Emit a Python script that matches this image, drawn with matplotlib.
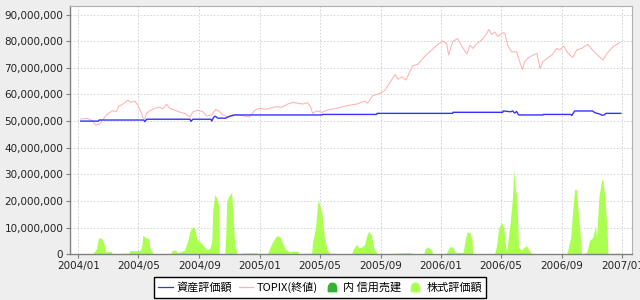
import matplotlib
matplotlib.use("Agg")
import matplotlib.pyplot as plt
import matplotlib.dates as mdates
from matplotlib.lines import Line2D
from matplotlib.path import Path
from matplotlib.ticker import FuncFormatter, MultipleLocator
import numpy as np
import pandas as pd

plt.rcParams['font.family'] = ['DejaVu Sans', 'Noto Sans CJK JP']

# ---------------- data (values in millions of yen) ----------------
topix_dates = [
    "2004-01-06", "2004-01-20", "2004-01-30", "2004-02-05", "2004-02-13", "2004-02-19", "2004-02-27",
    "2004-03-04", "2004-03-10", "2004-03-17", "2004-03-23", "2004-03-31", "2004-04-10", "2004-04-16",
    "2004-04-24", "2004-04-30", "2004-05-06", "2004-05-10", "2004-05-14", "2004-05-18", "2004-05-24",
    "2004-06-03", "2004-06-13", "2004-06-19", "2004-06-27", "2004-07-03", "2004-07-13", "2004-07-23",
    "2004-08-02", "2004-08-13", "2004-08-19", "2004-08-29", "2004-09-08", "2004-09-16", "2004-09-26",
    "2004-10-04", "2004-10-12", "2004-10-18", "2004-10-28", "2004-11-05", "2004-11-13", "2004-11-21",
    "2004-12-01", "2004-12-11", "2004-12-22", "2005-01-01", "2005-01-11", "2005-01-21", "2005-02-02",
    "2005-02-14", "2005-02-26", "2005-03-08", "2005-03-18", "2005-03-28", "2005-04-07", "2005-04-13",
    "2005-04-17", "2005-04-25", "2005-05-06", "2005-05-16", "2005-06-05", "2005-06-25", "2005-07-15",
    "2005-07-31", "2005-08-06", "2005-08-16", "2005-08-30", "2005-09-09", "2005-09-19", "2005-09-30",
    "2005-10-06", "2005-10-14", "2005-10-22", "2005-10-30", "2005-11-05", "2005-11-15", "2005-11-25",
    "2005-12-05", "2005-12-15", "2005-12-25", "2006-01-04", "2006-01-12", "2006-01-16", "2006-01-24",
    "2006-02-03", "2006-02-12", "2006-02-22", "2006-02-28", "2006-03-06", "2006-03-14", "2006-03-20",
    "2006-03-26", "2006-04-03", "2006-04-07", "2006-04-13", "2006-04-19", "2006-04-25", "2006-05-05",
    "2006-05-09", "2006-05-15", "2006-05-23", "2006-06-02", "2006-06-08", "2006-06-14", "2006-06-18",
    "2006-06-24", "2006-07-05", "2006-07-13", "2006-07-19", "2006-07-25", "2006-08-02", "2006-08-12",
    "2006-08-22", "2006-08-28", "2006-09-05", "2006-09-13", "2006-09-23", "2006-10-01", "2006-10-11",
    "2006-10-23", "2006-11-02", "2006-11-12", "2006-11-23", "2006-12-01", "2006-12-13", "2006-12-27",
]
topix_values = [
    50.8, 51.0, 50.1, 48.5, 48.9, 50.4, 52.3,
    53.1, 53.9, 53.5, 55.6, 56.4, 57.9, 57.0,
    57.5, 56.0, 53.5, 51.4, 50.7, 53.1, 53.8,
    54.8, 55.2, 54.6, 56.3, 54.8, 54.1, 53.4,
    52.9, 51.6, 53.5, 54.1, 53.5, 51.9, 52.3,
    54.4, 53.5, 52.3, 51.6, 52.3, 52.5, 52.2,
    51.9, 51.6, 54.1, 54.8, 54.4, 54.8, 55.4,
    55.2, 56.4, 57.0, 56.7, 56.4, 56.9, 55.4,
    52.9, 53.8, 53.3, 54.1, 54.8, 55.8, 56.4,
    57.5, 56.7, 59.5, 60.4, 61.4, 64.2, 67.5,
    65.7, 66.6, 65.4, 68.5, 70.8, 71.3, 73.5,
    75.4, 77.0, 78.8, 80.0, 79.2, 74.8, 79.8,
    81.0, 77.9, 75.2, 78.5, 77.3, 79.2, 79.8,
    81.0, 82.9, 84.4, 82.5, 83.5, 81.7, 83.2,
    83.0, 78.5, 76.0, 76.0, 72.3, 69.4, 72.3,
    73.5, 74.8, 75.4, 69.8, 72.3, 73.5, 74.8,
    77.3, 76.7, 78.1, 75.6, 73.9, 76.7, 77.3,
    78.8, 76.7, 74.8, 72.9, 75.4, 77.9, 79.5,
]

asset_dates = [
    "2004-01-06", "2004-02-11", "2004-02-12", "2004-05-12", "2004-05-14", "2004-05-18",
    "2004-08-13", "2004-08-15", "2004-08-19", "2004-09-24", "2004-09-26", "2004-09-30",
    "2004-10-03", "2004-10-08", "2004-10-24", "2004-10-28", "2004-11-03", "2004-11-11",
    "2005-05-06", "2005-05-07", "2005-08-24", "2005-08-25", "2006-01-24", "2006-01-25",
    "2006-05-05", "2006-05-06", "2006-05-21", "2006-05-25", "2006-05-29", "2006-06-02",
    "2006-06-06", "2006-07-25", "2006-07-26", "2006-09-19", "2006-09-21", "2006-09-27",
    "2006-11-02", "2006-11-06", "2006-11-17", "2006-11-21", "2006-11-25", "2006-11-29",
    "2006-12-29",
]
asset_values = [
    50.0, 50.0, 50.4, 50.4, 49.8, 50.7,
    50.7, 49.9, 50.7, 50.7, 50.0, 51.5,
    51.8, 51.1, 51.1, 51.5, 51.9, 52.3,
    52.3, 52.5, 52.5, 52.9, 52.9, 53.3,
    53.3, 53.8, 53.5, 53.8, 53.0, 53.6,
    52.3, 52.3, 52.5, 52.5, 52.1, 53.8,
    53.8, 53.2, 52.6, 52.2, 52.3, 52.9,
    52.9,
]

stock_dates = [
    "2004-01-01", "2004-01-30", "2004-02-01", "2004-02-07", "2004-02-11", "2004-02-17", "2004-02-19",
    "2004-02-23", "2004-02-25", "2004-03-08", "2004-03-10", "2004-03-27", "2004-03-29", "2004-04-12",
    "2004-04-14", "2004-05-04", "2004-05-08", "2004-05-10", "2004-05-14", "2004-05-18", "2004-05-22",
    "2004-05-24", "2004-05-30", "2004-06-01", "2004-07-05", "2004-07-07", "2004-07-13", "2004-07-17",
    "2004-07-19", "2004-08-02", "2004-08-09", "2004-08-13", "2004-08-17", "2004-08-19", "2004-08-23",
    "2004-08-27", "2004-09-02", "2004-09-08", "2004-09-16", "2004-09-22", "2004-09-26", "2004-09-28",
    "2004-10-02", "2004-10-06", "2004-10-10", "2004-10-11", "2004-10-22", "2004-10-24", "2004-10-26",
    "2004-10-30", "2004-11-05", "2004-11-07", "2004-11-11", "2004-11-15", "2004-11-17", "2004-11-27",
    "2004-12-26", "2004-12-28", "2005-01-15", "2005-01-17", "2005-01-25", "2005-01-31", "2005-02-04",
    "2005-02-10", "2005-02-16", "2005-02-22", "2005-03-02", "2005-03-08", "2005-03-18", "2005-03-22",
    "2005-04-01", "2005-04-15", "2005-04-17", "2005-04-23", "2005-04-27", "2005-04-29", "2005-05-06",
    "2005-05-10", "2005-05-16", "2005-05-22", "2005-06-01", "2005-06-03", "2005-07-05", "2005-07-07",
    "2005-07-15", "2005-07-19", "2005-07-25", "2005-07-31", "2005-08-04", "2005-08-08", "2005-08-14",
    "2005-08-18", "2005-08-24", "2005-08-26", "2005-10-20", "2005-11-01", "2005-11-03", "2005-11-27",
    "2005-11-29", "2005-12-05", "2005-12-13", "2005-12-15", "2006-01-10", "2006-01-12", "2006-01-18",
    "2006-01-24", "2006-01-30", "2006-02-14", "2006-02-20", "2006-02-22", "2006-02-28", "2006-03-04",
    "2006-03-06", "2006-03-30", "2006-04-19", "2006-04-23", "2006-04-27", "2006-05-03", "2006-05-07",
    "2006-05-11", "2006-05-13", "2006-05-17", "2006-05-21", "2006-05-25", "2006-05-27", "2006-05-31",
    "2006-06-02", "2006-06-06", "2006-06-12", "2006-06-18", "2006-06-22", "2006-06-28", "2006-07-03",
    "2006-07-15", "2006-07-29", "2006-07-31", "2006-09-11", "2006-09-13", "2006-09-19", "2006-09-23",
    "2006-09-27", "2006-10-01", "2006-10-03", "2006-10-07", "2006-10-11", "2006-10-21", "2006-10-27",
    "2006-11-02", "2006-11-08", "2006-11-10", "2006-11-15", "2006-11-21", "2006-11-23", "2006-11-27",
    "2006-12-01", "2006-12-03", "2006-12-21", "2006-12-27", "2006-12-29",
]
stock_values = [
    0.0, 0.0, 0.7, 2.2, 6.2, 6.0, 5.5,
    3.1, 1.0, 1.0, 0.0, 0.0, 0.4, 0.4,
    1.4, 1.4, 3.0, 7.2, 6.5, 6.0, 6.0,
    2.5, 0.6, 0.0, 0.0, 1.2, 1.7, 1.2,
    0.6, 1.5, 5.3, 8.7, 9.8, 10.5, 9.5,
    5.6, 4.7, 3.5, 1.8, 2.2, 4.7, 16.6,
    22.3, 21.2, 18.0, 0.0, 0.0, 6.6, 19.7,
    21.8, 23.2, 16.6, 4.4, 0.6, 0.0, 0.5,
    0.6, 0.0, 0.0, 0.6, 4.1, 6.0, 7.0,
    6.6, 4.1, 1.8, 0.9, 1.2, 1.2, 0.0,
    0.4, 0.4, 4.5, 10.0, 19.1, 20.1, 15.3,
    7.8, 1.8, 0.4, 0.4, 0.0, 0.0, 1.6,
    3.8, 2.4, 2.7, 3.8, 7.0, 8.7, 7.0,
    2.6, 0.6, 0.0, 0.6, 0.6, 0.0, 0.0,
    1.9, 2.8, 1.5, 0.0, 0.0, 0.6, 2.8,
    2.8, 0.7, 0.7, 6.8, 8.3, 8.2, 5.5,
    0.0, 0.3, 0.3, 3.8, 10.0, 11.9, 10.0,
    2.6, 1.3, 7.3, 13.6, 22.3, 31.6, 23.5,
    22.8, 2.6, 1.6, 2.8, 3.2, 1.3, 0.0,
    0.3, 0.3, 0.0, 0.0, 1.6, 6.5, 16.6,
    24.5, 24.1, 18.0, 10.0, 0.0, 0.7, 5.3,
    6.2, 10.8, 6.3, 22.0, 28.3, 27.5, 20.6,
    10.0, 0.0, 0.4, 0.4, 0.0,
]

x_ticks = ["2004-01-01", "2004-05-01", "2004-09-01", "2005-01-01", "2005-05-01",
           "2005-09-01", "2006-01-01", "2006-05-01", "2006-09-01", "2007-01-01"]
legend_labels = ["資産評価額", "TOPIX(終値)", "内 信用売建", "株式評価額"]

# ---------------- styling ----------------
BG = "#EEEEEE"
C_ASSET = "#3333FF"
C_TOPIX = "#FFADAD"
C_SHORT = "#33B233"
C_STOCK = "#AAFF50"

fig = plt.figure(figsize=(6.4, 3.0), dpi=100, facecolor=BG)
ax = fig.add_axes([70.3 / 640, 1 - 254.3 / 300, (632.3 - 70.3) / 640, (254.3 - 6) / 300])
ax.set_facecolor("white")

M = 1e6
sd = pd.to_datetime(stock_dates)
sv = np.array(stock_values) * M
ax.fill_between(sd, 0, sv, color=C_STOCK, linewidth=0, zorder=2)
ax.plot(pd.to_datetime(topix_dates), np.array(topix_values) * M, color=C_TOPIX, lw=0.7, zorder=3)
ax.plot(pd.to_datetime(asset_dates), np.array(asset_values) * M, color=C_ASSET, lw=1.0, zorder=4)

ax.set_ylim(0, 93.2e6)
ax.set_xlim(pd.Timestamp("2003-12-16"), pd.Timestamp("2007-01-21"))
ax.yaxis.set_major_locator(MultipleLocator(10e6))
ax.yaxis.set_major_formatter(FuncFormatter(lambda v, p: f"{int(round(v)):,}"))
ax.set_xticks(pd.to_datetime(x_ticks))
ax.xaxis.set_major_formatter(mdates.DateFormatter("%Y/%m"))

ax.grid(True, color="#CFCFCF", linestyle=(0, (2, 2)), linewidth=0.6, zorder=0)
ax.set_axisbelow(True)
for s in ["top", "right"]:
    ax.spines[s].set_color("#B0B0B0")
    ax.spines[s].set_linewidth(0.8)
for s in ["left", "bottom"]:
    ax.spines[s].set_color("#808080")
    ax.spines[s].set_linewidth(1.0)
ax.tick_params(axis="both", direction="out", length=3, width=0.8, color="#808080",
               labelsize=7.5, labelcolor="#222222", pad=2)

# legend
v = [(-1, -1), (-1, 0.1), (-0.75, 0.7), (-0.35, 1.0), (0.35, 1.0), (0.75, 0.7), (1, 0.1), (1, -1), (-1, -1)]
hill = Path(v, [Path.MOVETO] + [Path.LINETO] * (len(v) - 2) + [Path.CLOSEPOLY])
handles = [
    Line2D([], [], color=C_ASSET, lw=0.9),
    Line2D([], [], color=C_TOPIX, lw=0.9),
    Line2D([], [], marker=hill, linestyle="None", markersize=6, color=C_SHORT),
    Line2D([], [], marker=hill, linestyle="None", markersize=6, color=C_STOCK),
]
leg = fig.legend(handles, legend_labels, loc="center", bbox_to_anchor=(320 / 640, 1 - 287.5 / 300),
                 ncol=4, frameon=True, fancybox=False, edgecolor="black", facecolor="white",
                 framealpha=1, handlelength=1.3, handletextpad=0.35, columnspacing=0.6,
                 borderpad=0.4, prop={"family": ["Noto Sans CJK JP", "DejaVu Sans"], "size": 8})
leg.get_frame().set_linewidth(1.0)

fig.savefig("out.png", dpi=100, facecolor=BG)
